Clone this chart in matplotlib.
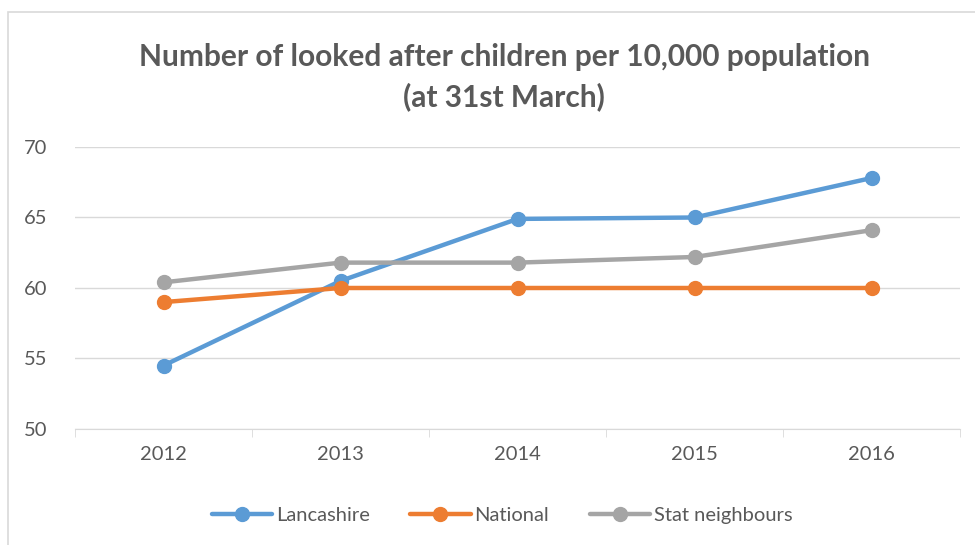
import matplotlib
matplotlib.use("Agg")
from matplotlib import pyplot as plt
from matplotlib.patches import Rectangle
import numpy as np

plt.rcParams['font.family'] = ['Lato', 'DejaVu Sans']

years = ['2012', '2013', '2014', '2015', '2016']
lancashire = [54.5, 60.5, 64.9, 65.0, 67.8]
national = [59.0, 60.0, 60.0, 60.0, 60.0]
stat_neighbours = [60.4, 61.8, 61.8, 62.2, 64.1]

series = [
    ('Lancashire', lancashire, '#5B9BD5'),
    ('National', national, '#ED7D31'),
    ('Stat neighbours', stat_neighbours, '#A5A5A5'),
]

fig = plt.figure(figsize=(9.75, 5.45), dpi=100)
ax = fig.add_axes([75 / 975, 1 - 429 / 545, 885 / 975, 282 / 545])

# outer chart border
fig.patches.append(Rectangle((8 / 975, -0.01), 1.1, 1 - 12 / 545 + 0.01,
                             transform=fig.transFigure, fill=False,
                             edgecolor='#D9D9D9', lw=1.2))

x = np.arange(len(years))
for name, vals, col in series:
    ax.plot(x, vals, color=col, lw=3.2, marker='o', ms=10, label=name,
            solid_capstyle='round')

ax.set_xlim(-0.5, len(years) - 0.5)
ax.set_ylim(50, 70)
ax.set_yticks([50, 55, 60, 65, 70])
ax.set_xticks(x)
ax.set_xticklabels(years)
ax.set_xticks(np.arange(-0.5, len(years)), minor=True)
ax.tick_params(axis='x', which='major', length=0, pad=12, labelsize=14.5,
               labelcolor='#595959')
ax.tick_params(axis='x', which='minor', length=6, color='#D9D9D9')
ax.tick_params(axis='y', length=0, pad=20, labelsize=14.5, labelcolor='#595959')
ax.grid(axis='y', color='#D9D9D9', lw=1)
ax.set_axisbelow(True)
for s in ['top', 'right', 'left']:
    ax.spines[s].set_visible(False)
ax.spines['bottom'].set_color('#D9D9D9')

fig.text(0.517, 1 - 57 / 545, 'Number of looked after children per 10,000 population',
         ha='center', va='center', fontsize=21.5, fontweight='bold', color='#595959')
fig.text(0.517, 1 - 97 / 545, '(at 31st March)',
         ha='center', va='center', fontsize=21.5, fontweight='bold', color='#595959')

fig.legend(loc='center', bbox_to_anchor=(0.515, 1 - 515 / 545), ncol=3,
           frameon=False, fontsize=14.5, labelcolor='#595959',
           handlelength=3, handletextpad=0.2, columnspacing=2.0)

fig.savefig('out.png', dpi=100)
